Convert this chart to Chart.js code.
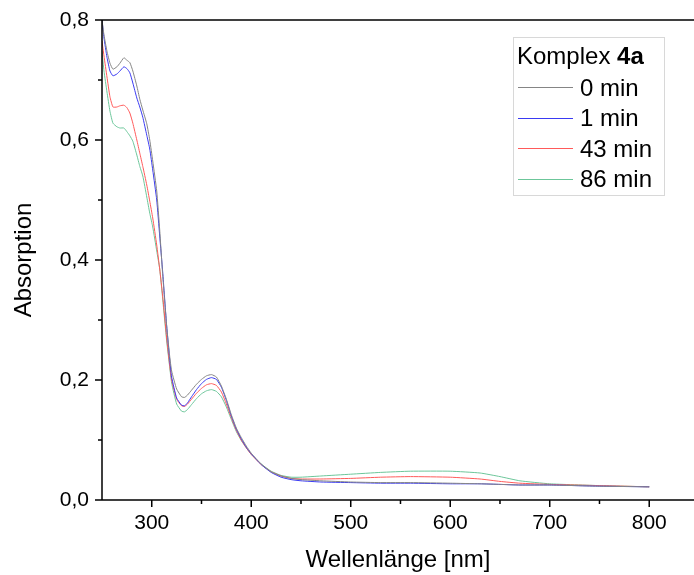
<!DOCTYPE html>
<html>
<head>
<meta charset="utf-8">
<script src="https://cdn.jsdelivr.net/npm/chart.js@4"></script>
<style>
  html, body { margin: 0; padding: 0; background: #fff; }
  #wrap { width: 694px; height: 575px; position: relative; }
</style>
</head>
<body>
<div id="wrap"><canvas id="uvvis"></canvas></div>
<script>
// Wellenlängen (nm)
const wellenlaenge = [250,252,255,258,261,265,268,272,275,278,281,285,288,291,295,298,301,305,308,311,315,318,320,325,330,333,336,340,345,350,355,360,365,370,375,380,385,390,395,400,410,420,430,440,450,470,500,530,560,600,630,650,670,700,750,800];

// Absorption je Messzeit
const abs0min = [0.800,0.775,0.748,0.728,0.718,0.722,0.728,0.737,0.733,0.729,0.715,0.690,0.668,0.650,0.627,0.600,0.565,0.515,0.450,0.375,0.290,0.240,0.215,0.185,0.172,0.171,0.175,0.183,0.193,0.201,0.207,0.209,0.205,0.190,0.168,0.142,0.120,0.104,0.090,0.078,0.060,0.047,0.040,0.036,0.034,0.032,0.030,0.029,0.029,0.028,0.027,0.026,0.025,0.025,0.023,0.022];
const abs1min = [0.800,0.770,0.738,0.715,0.707,0.710,0.715,0.722,0.719,0.712,0.695,0.670,0.655,0.638,0.608,0.585,0.550,0.500,0.440,0.380,0.290,0.235,0.205,0.170,0.158,0.157,0.162,0.172,0.184,0.194,0.201,0.204,0.201,0.188,0.166,0.140,0.118,0.102,0.088,0.077,0.059,0.046,0.038,0.034,0.032,0.030,0.029,0.028,0.028,0.027,0.027,0.026,0.025,0.025,0.023,0.022];
const abs43min = [0.765,0.740,0.705,0.672,0.655,0.655,0.657,0.658,0.654,0.645,0.628,0.600,0.578,0.556,0.525,0.498,0.470,0.425,0.385,0.340,0.270,0.225,0.200,0.168,0.157,0.156,0.160,0.168,0.178,0.186,0.192,0.194,0.191,0.180,0.160,0.137,0.116,0.100,0.087,0.076,0.059,0.047,0.040,0.036,0.035,0.035,0.036,0.038,0.039,0.038,0.035,0.031,0.028,0.026,0.024,0.022];
const abs86min = [0.748,0.715,0.680,0.648,0.628,0.622,0.620,0.620,0.614,0.607,0.598,0.575,0.556,0.540,0.505,0.478,0.455,0.415,0.385,0.335,0.265,0.222,0.195,0.160,0.148,0.147,0.151,0.159,0.169,0.177,0.182,0.184,0.181,0.172,0.155,0.134,0.114,0.099,0.087,0.076,0.060,0.048,0.041,0.038,0.038,0.040,0.043,0.046,0.048,0.048,0.045,0.039,0.032,0.027,0.024,0.022];

const serien = ["0 min", "1 min", "43 min", "86 min"];
const farben = ["#858585", "#3a3af2", "#ff5a5a", "#6cc69a"];

const xTicks = [300, 400, 500, 600, 700, 800];
const xMinor = [350, 450, 550, 650, 750];
const yTicks = [0, 0.2, 0.4, 0.6, 0.8];
const yMinor = [0.1, 0.3, 0.5, 0.7];

const schrift = "'Liberation Sans', Arial, sans-serif";

function punkte(werte) {
  return wellenlaenge.map((x, i) => ({ x: x, y: werte[i] }));
}

// Achsen, Ticks und Legende selbst zeichnen
const rahmen = {
  id: "rahmen",
  afterDraw(chart) {
    const ctx = chart.ctx;
    const a = chart.chartArea;
    const xs = chart.scales.x, ys = chart.scales.y;
    ctx.save();
    ctx.strokeStyle = "#000";
    ctx.lineWidth = 1.5;
    ctx.beginPath();
    ctx.moveTo(a.left, a.top); ctx.lineTo(a.right, a.top);
    ctx.moveTo(a.left, a.top); ctx.lineTo(a.left, a.bottom);
    ctx.moveTo(a.left, a.bottom); ctx.lineTo(a.right, a.bottom);
    xTicks.forEach(v => { const p = xs.getPixelForValue(v); ctx.moveTo(p, a.bottom); ctx.lineTo(p, a.bottom + 7); });
    xMinor.forEach(v => { const p = xs.getPixelForValue(v); ctx.moveTo(p, a.bottom); ctx.lineTo(p, a.bottom + 4); });
    yTicks.forEach(v => { const p = ys.getPixelForValue(v); ctx.moveTo(a.left, p); ctx.lineTo(a.left - 7, p); });
    yMinor.forEach(v => { const p = ys.getPixelForValue(v); ctx.moveTo(a.left, p); ctx.lineTo(a.left - 4, p); });
    ctx.stroke();

    // Legende
    const lx = 513, ly = 37, lw = 151, lh = 158;
    ctx.lineWidth = 1;
    ctx.strokeStyle = "#d8d8d8";
    ctx.fillStyle = "#fff";
    ctx.fillRect(lx, ly, lw, lh);
    ctx.strokeRect(lx + 0.5, ly + 0.5, lw, lh);
    ctx.fillStyle = "#000";
    ctx.textBaseline = "middle";
    ctx.textAlign = "left";
    ctx.font = "24px " + schrift;
    ctx.fillText("Komplex ", 517, 57);
    const w = ctx.measureText("Komplex ").width;
    ctx.font = "bold 24px " + schrift;
    ctx.fillText("4a", 517 + w, 57);
    ctx.font = "24px " + schrift;
    serien.forEach((s, i) => {
      const y = 87 + i * 30.5;
      ctx.strokeStyle = farben[i];
      ctx.lineWidth = 1;
      ctx.beginPath();
      ctx.moveTo(518, Math.round(y) + 0.5); ctx.lineTo(573, Math.round(y) + 0.5);
      ctx.stroke();
      ctx.fillText(s, 580, y + 2);
    });
    ctx.restore();
  }
};

const ctx = document.getElementById("uvvis");
new Chart(ctx, {
  type: "line",
  data: {
    datasets: serien.map((s, i) => ({
      label: s,
      data: punkte([abs0min, abs1min, abs43min, abs86min][i]),
      borderColor: farben[i],
      borderWidth: 1,
      pointRadius: 0,
      tension: 0.15,
      fill: false
    }))
  },
  options: {
    responsive: true,
    maintainAspectRatio: false,
    animation: false,
    layout: { padding: { top: 20, right: 0, left: 0, bottom: 0 } },
    plugins: {
      legend: { display: false },
      tooltip: { enabled: false }
    },
    scales: {
      x: {
        type: "linear",
        min: 250,
        max: 845,
        afterBuildTicks: (s) => { s.ticks = xTicks.map(v => ({ value: v })); },
        afterFit: (s) => { s.height = 75; s.paddingLeft = 0; s.paddingRight = 0; },
        grid: { display: false, drawTicks: false },
        border: { display: false },
        ticks: {
          color: "#000",
          padding: 11,
          font: { family: schrift, size: 21 }
        },
        title: {
          display: true,
          text: "Wellenlänge [nm]",
          color: "#000",
          padding: { top: 0, bottom: 0 },
          font: { family: schrift, size: 24 }
        }
      },
      y: {
        min: 0,
        max: 0.8,
        afterBuildTicks: (s) => { s.ticks = yTicks.map(v => ({ value: v })); },
        afterFit: (s) => { s.width = 102; s.paddingTop = 0; s.paddingBottom = 0; },
        grid: { display: false, drawTicks: false },
        border: { display: false },
        ticks: {
          color: "#000",
          padding: 13,
          font: { family: schrift, size: 21 },
          callback: (v) => v.toFixed(1).replace(".", ",")
        },
        title: {
          display: true,
          text: "Absorption",
          color: "#000",
          padding: { top: 10, bottom: 0 },
          font: { family: schrift, size: 24 }
        }
      }
    }
  },
  plugins: [rahmen]
});
</script>
</body>
</html>
